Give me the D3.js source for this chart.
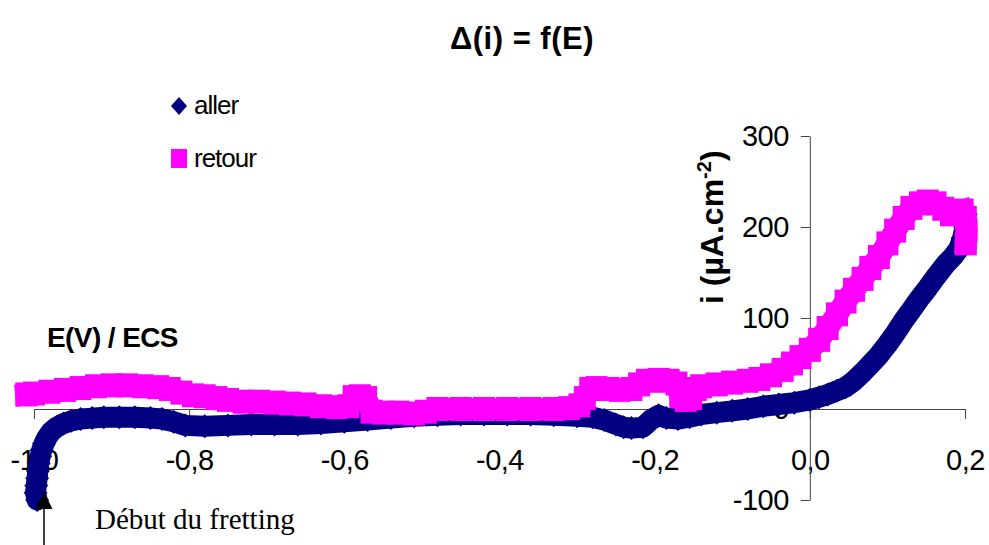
<!DOCTYPE html>
<html><head><meta charset="utf-8">
<script src="https://cdn.jsdelivr.net/npm/d3@7"></script>
<style>
html,body{margin:0;padding:0;background:#fff;}
svg{display:block;}
</style></head>
<body>
<svg id="c" width="989" height="545" style="font-family:'Liberation Sans',Arial,sans-serif"></svg>
<script>
// ---- data ----
const xTicks = [-1.0, -0.8, -0.6, -0.4, -0.2, 0.0, 0.2];
const yTicks = [-100, 0, 100, 200, 300];
const seriesNames = ["aller", "retour"];

const allerE = [-0.996,-0.998,-0.997,-0.996,-0.995,-0.994,-0.992,-0.99,-0.987,-0.983,-0.978,-0.971,-0.962,-0.952,-0.94,-0.925,-0.91,-0.89,-0.87,-0.85,-0.835,-0.82,-0.805,-0.78,-0.75,-0.72,-0.69,-0.66,-0.63,-0.60,-0.57,-0.54,-0.51,-0.48,-0.45,-0.42,-0.39,-0.36,-0.33,-0.30,-0.28,-0.265,-0.25,-0.24,-0.23,-0.215,-0.205,-0.195,-0.185,-0.17,-0.155,-0.14,-0.12,-0.10,-0.08,-0.06,-0.04,-0.02,0.0,0.012,0.023,0.035,0.046,0.057,0.068,0.078,0.089,0.1,0.11,0.12,0.131,0.141,0.152,0.163,0.175,0.185,0.192,0.197,0.2,0.201];
const allerI = [-100,-92,-84,-76,-68,-60,-52,-45,-38,-31,-25,-20,-16,-13,-11,-10,-9,-9,-9,-10,-11,-14,-18,-19,-18,-17,-17,-17,-16,-14,-12,-10,-8,-7,-6,-6,-6,-6,-7,-8,-9,-12,-17,-20,-21,-20,-12,-7,-10,-11,-9,-6,-4,-2,0,3,5,7,10,13,16,20,24,31,40,49,59,71,83,96,109,121,133,146,159,168,176,188,200,214];

const retourE = [0.201,0.202,0.201,0.197,0.19,0.182,0.172,0.162,0.152,0.142,0.131,0.121,0.11,0.1,0.089,0.078,0.068,0.057,0.046,0.035,0.023,0.012,0.0,-0.012,-0.023,-0.035,-0.05,-0.065,-0.08,-0.1,-0.12,-0.14,-0.147,-0.153,-0.16,-0.167,-0.172,-0.182,-0.195,-0.21,-0.22,-0.23,-0.245,-0.26,-0.275,-0.283,-0.29,-0.297,-0.31,-0.33,-0.36,-0.39,-0.42,-0.45,-0.48,-0.495,-0.51,-0.53,-0.55,-0.565,-0.572,-0.58,-0.588,-0.595,-0.61,-0.63,-0.65,-0.67,-0.69,-0.71,-0.73,-0.75,-0.765,-0.78,-0.795,-0.81,-0.825,-0.84,-0.86,-0.88,-0.9,-0.92,-0.94,-0.96,-0.98,-1.0,-1.01];
const retourI = [182,196,210,218,216,214,220,226,228,226,221,210,196,182,167,155,143,131,118,104,89,76,65,57,50,43,37,33,31,29,27,25,22,12,10,14,28,31,32,31,27,22,21,22,23,22,12,4,1,0,0,0,0,0,0,-3,-5,-4,-4,-3,12,14,13,3,2,3,5,6,7,8,8,10,12,14,15,18,22,24,25,26,26,25,23,21,19,17,16];

const titleText = "Δ(i) = f(E)";
const xTitle = "E(V) / ECS";
const note = "Début du fretting";

// ---- drawing ----
const svg = d3.select("#c");
const x = d3.scaleLinear().domain([-1.0, 0.2]).range([34, 965]);
const y = d3.scaleLinear().domain([-100, 300]).range([500, 136]);
const navy = "#000080", mag = "#FF00FF";
const SANS = "'Liberation Sans',Arial,sans-serif";

const aller = allerE.map((e,i)=>({e, v: allerI[i]}));
const retour = retourE.map((e,i)=>({e, v: retourI[i]}));

const fmt = d => d3.format(".1f")(d).replace("−","-").replace(".", ",");

// x axis
const gx = svg.append("g").attr("transform", `translate(0,${y(0)})`)
  .call(d3.axisBottom(x).tickValues(xTicks).tickSize(10).tickSizeOuter(0).tickPadding(30).tickFormat(fmt));
// y axis
const gy = svg.append("g").attr("transform", `translate(${x(0)},0)`)
  .call(d3.axisLeft(y).tickValues(yTicks).tickSize(9).tickSizeOuter(0).tickPadding(12).tickFormat(d=>String(d)));
[gx, gy].forEach(g=>{
  g.attr("font-family", SANS).attr("font-size", 29);
  g.selectAll("path.domain").attr("stroke","#444").attr("stroke-width",1);
  g.selectAll(".tick line").attr("stroke","#444").attr("stroke-width",1);
  g.selectAll("text").attr("fill","#000").attr("letter-spacing","-0.5");
});

const line = d3.line().x(d=>x(d.e)).y(d=>y(d.v));
function diamond(cx, cy, w, h){ return `M${cx},${cy-h}L${cx+w},${cy}L${cx},${cy+h}L${cx-w},${cy}Z`; }

// aller series
svg.append("path").datum(aller).attr("d", line).attr("fill","none")
  .attr("stroke", navy).attr("stroke-width", 21).attr("stroke-linejoin","round").attr("stroke-linecap","round");
svg.append("g").selectAll("path").data(aller).join("path")
  .attr("d", d=>diamond(x(d.e), y(d.v), 12, 12)).attr("fill", navy);

// retour series
svg.append("path").datum(retour).attr("d", line).attr("fill","none")
  .attr("stroke", mag).attr("stroke-width", 22).attr("stroke-linejoin","miter").attr("stroke-linecap","square");
svg.append("g").selectAll("rect").data(retour).join("rect")
  .attr("x", d=>x(d.e)-11).attr("y", d=>y(d.v)-12).attr("width",22).attr("height",24).attr("fill", mag);

// title
svg.append("text").attr("x", 522).attr("y", 49).attr("text-anchor","middle")
  .attr("font-size", 31).attr("font-weight","bold").attr("letter-spacing","0.5").text(titleText);

// legend
svg.append("path").attr("d", diamond(179, 106, 8, 9)).attr("fill", navy);
svg.append("text").attr("x", 194).attr("y", 114).attr("font-size", 26).attr("letter-spacing","-1").text(seriesNames[0]);
svg.append("rect").attr("x", 171).attr("y", 149).attr("width", 16).attr("height", 19).attr("fill", mag);
svg.append("text").attr("x", 194).attr("y", 167).attr("font-size", 26).attr("letter-spacing","-1").text(seriesNames[1]);

// axis titles
svg.append("text").attr("x", 47).attr("y", 347).attr("font-size", 28).attr("font-weight","bold")
  .attr("letter-spacing","-0.6").text(xTitle);
const yt = svg.append("text").attr("transform","translate(723,304) rotate(-90)")
  .attr("font-size", 32).attr("font-weight","bold");
yt.append("tspan").text("i (µA.cm");
yt.append("tspan").attr("font-size", 20).attr("dy", -12).text("-2");
yt.append("tspan").attr("dy", 12).text(")");

// annotation
svg.append("text").attr("x", 95).attr("y", 529).attr("font-size", 29)
  .attr("font-family","'Liberation Serif','Times New Roman',serif").text(note);
svg.append("line").attr("x1", 44).attr("x2", 44).attr("y1", 506).attr("y2", 545)
  .attr("stroke","#000").attr("stroke-width", 1.5);
svg.append("path").attr("d", "M44,492L52.5,509L35.5,509Z").attr("fill","#000");
</script>
</body></html>
